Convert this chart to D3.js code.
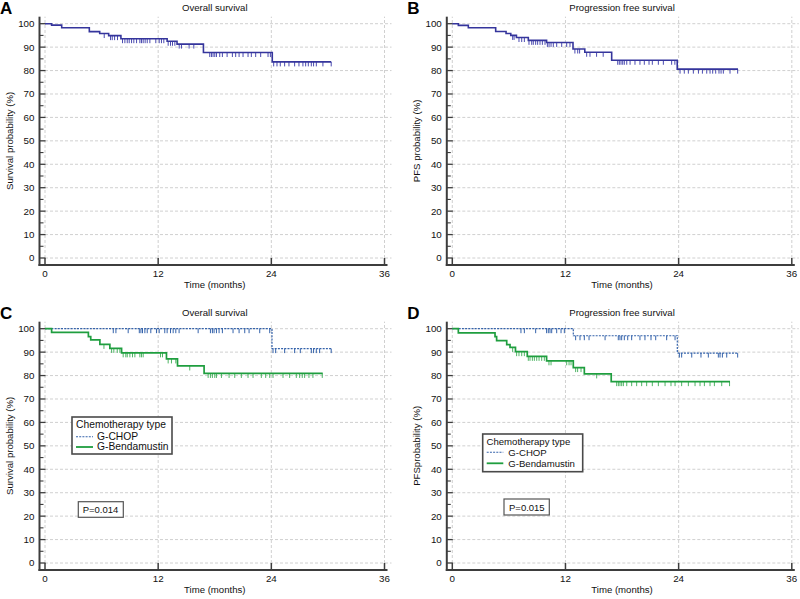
<!DOCTYPE html>
<html><head><meta charset="utf-8">
<script src="https://cdn.jsdelivr.net/npm/d3@7"></script>
<style>
html,body{margin:0;padding:0;background:#fff;}
svg{display:block;font-family:Arial,"Liberation Sans",sans-serif;}
</style></head>
<body>
<svg id="chart" width="800" height="599"></svg>
<script>
// ---------- data ----------
const xTickValues = [0, 12, 24, 36];
const yTickValues = [0, 10, 20, 30, 40, 50, 60, 70, 80, 90, 100];
const yMinorValues = [5, 15, 25, 35, 45, 55, 65, 75, 85, 95];

// A: overall survival, all patients
const osAllTimes = [0.7, 1.77, 4.7, 5.8, 6.75, 8.05, 12.95, 14.0, 16.8, 24.1];
const osAllSurv  = [99.4, 98.3, 96.6, 95.8, 94.9, 93.6, 92.5, 91.3, 87.7, 83.7];
const osAllCensor = [6.28, 6.95, 7.13, 7.38, 7.69, 8.22, 8.47, 8.72, 8.93, 9.18, 9.42, 9.71, 10.06, 10.23, 10.41, 10.62, 10.84, 11.12, 11.75, 12.11, 12.35, 12.6, 13.06, 13.31, 13.52, 13.77, 14.23, 14.47, 15.28, 15.78, 17.47, 17.65, 17.82, 18.0, 18.18, 18.53, 18.81, 19.31, 19.87, 20.22, 20.58, 21.0, 21.53, 21.88, 22.34, 22.87, 23.65, 23.9, 24.25, 24.6, 24.95, 25.41, 25.87, 26.47, 26.93, 27.35, 27.64, 27.92, 28.24, 28.48, 28.77, 29.47, 30.35];
const osAllEnd = 30.35;

// B: progression free survival, all patients
const pfsAllTimes = [0.64, 1.7, 4.6, 5.7, 6.2, 6.8, 8.06, 10.0, 12.8, 14.05, 16.9, 23.85];
const pfsAllSurv  = [99.3, 98.3, 96.7, 95.8, 95.0, 94.1, 92.9, 92.0, 89.2, 87.8, 84.4, 80.6];
const pfsAllCensor = [6.4, 6.55, 7.07, 7.36, 7.64, 8.13, 8.42, 8.59, 8.84, 9.05, 9.3, 9.55, 9.83, 10.08, 10.26, 10.47, 10.71, 11.07, 11.6, 12.13, 12.48, 13.0, 13.3, 13.5, 14.25, 14.6, 15.3, 16.0, 17.54, 17.71, 17.89, 18.07, 18.24, 18.5, 18.85, 19.37, 19.9, 20.36, 20.86, 21.21, 21.85, 22.38, 23.26, 23.6, 24.15, 24.6, 25.03, 25.56, 26.1, 26.52, 26.98, 27.33, 27.61, 27.93, 28.28, 28.5, 28.74, 29.45, 30.26];
const pfsAllEnd = 30.3;

// C: overall survival by chemotherapy
const osChopTimes = [24.07];
const osChopSurv  = [91.5];
const osChopCensor = [7.24, 7.52, 8.82, 10.0, 10.17, 10.34, 10.59, 10.84, 11.22, 11.82, 12.11, 12.7, 12.95, 13.31, 13.59, 13.87, 14.22, 16.24, 17.54, 17.75, 17.93, 18.18, 18.46, 18.81, 19.94, 20.58, 21.18, 21.64, 22.77, 23.83, 24.18, 24.46, 25.41, 26.47, 27.07, 28.24, 28.48, 28.77, 29.12, 30.35];
const osChopEnd = 30.35;
const osBendaTimes = [0.7, 4.6, 4.85, 5.82, 6.88, 8.12, 12.88, 14.05, 16.87];
const osBendaSurv  = [98.4, 96.6, 95.2, 93.3, 91.6, 89.7, 87.1, 84.1, 80.9];
const osBendaCensor = [6.25, 7.06, 7.3, 7.66, 7.94, 8.29, 8.57, 8.72, 9.0, 9.28, 9.53, 10.06, 10.23, 10.41, 12.25, 12.46, 13.06, 13.41, 13.87, 15.35, 17.3, 17.54, 17.75, 18.0, 18.18, 18.71, 19.52, 20.12, 20.82, 21.53, 22.06, 22.94, 23.4, 23.83, 24.18, 25.24, 25.94, 26.65, 27.0, 27.28, 27.53, 27.99, 28.41, 29.4];
const osBendaEnd = 29.45;

// D: progression free survival by chemotherapy
const pfsChopTimes = [12.83, 23.86];
const pfsChopSurv  = [97.0, 89.6];
const pfsChopCensor = [7.28, 7.64, 8.84, 10.0, 10.18, 10.36, 10.54, 11.07, 11.53, 11.88, 13.08, 13.54, 14.0, 14.5, 16.2, 17.6, 17.78, 17.96, 18.24, 18.6, 19.02, 19.9, 20.43, 21.07, 21.57, 22.73, 23.62, 24.08, 24.32, 25.39, 26.37, 27.15, 28.21, 28.39, 28.64, 29.1, 30.26];
const pfsChopEnd = 30.3;
const pfsBendaTimes = [0.64, 4.53, 4.7, 5.77, 6.12, 6.7, 7.95, 10.0, 12.83, 14.0, 16.85];
const pfsBendaSurv  = [98.2, 96.6, 94.9, 93.2, 92.0, 90.2, 88.2, 86.3, 83.4, 80.7, 77.4];
const pfsBendaCensor = [6.4, 6.82, 7.07, 7.36, 7.64, 8.06, 8.24, 8.49, 8.7, 8.95, 9.2, 9.48, 9.76, 10.25, 10.47, 12.13, 12.38, 12.59, 13.08, 13.29, 13.65, 15.31, 17.43, 17.61, 17.78, 17.96, 18.14, 18.5, 19.02, 19.55, 20.08, 20.61, 21.21, 21.85, 22.56, 23.19, 23.62, 24.32, 25.03, 25.74, 26.27, 26.73, 27.33, 27.79, 28.57, 29.4];
const pfsBendaEnd = 29.45;

const panelLetters = ["A", "B", "C", "D"];
const panelTitles = ["Overall survival", "Progression free survival", "Overall survival", "Progression free survival"];
const yTitles = ["Survival probability (%)", "PFS probability (%)", "Survival probability (%)", "PFSprobability (%)"];
const xTitle = "Time (months)";
const legendTitle = "Chemotherapy type";
const legendNames = ["G-CHOP", "G-Bendamustin"];
const pValues = ["P=0.014", "P=0.015"];

// ---------- styles ----------
const NAVY = "#35359c", BLUE = "#3563ab", GREEN = "#1f9e3f", GREEN_T = "#4fb565";
const AXIS = "#3d3d3d", GRID = "#c4c4c4", TXT = "#111";

const curvesByPanel = [
  [{t: osAllTimes, s: osAllSurv, c: osAllCensor, end: osAllEnd, color: NAVY, tick: "#4a4ab0", w: 1.6, dash: null}],
  [{t: pfsAllTimes, s: pfsAllSurv, c: pfsAllCensor, end: pfsAllEnd, color: NAVY, tick: "#4a4ab0", w: 1.6, dash: null}],
  [{t: osChopTimes, s: osChopSurv, c: osChopCensor, end: osChopEnd, color: BLUE, tick: BLUE, w: 1.2, dash: "2,1.2"},
   {t: osBendaTimes, s: osBendaSurv, c: osBendaCensor, end: osBendaEnd, color: GREEN, tick: GREEN_T, w: 1.7, dash: null}],
  [{t: pfsChopTimes, s: pfsChopSurv, c: pfsChopCensor, end: pfsChopEnd, color: BLUE, tick: BLUE, w: 1.2, dash: "2,1.2"},
   {t: pfsBendaTimes, s: pfsBendaSurv, c: pfsBendaCensor, end: pfsBendaEnd, color: GREEN, tick: GREEN_T, w: 1.7, dash: null}]
];

const offsets = [[0, 0], [407.3, 0], [0, 305], [407.3, 305]];

const svg = d3.select("#chart");

function survAt(curve, time) {
  let v = 100;
  curve.t.forEach((tt, i) => { if (tt <= time) v = curve.s[i]; });
  return v;
}

panelLetters.forEach((letter, pi) => {
  const [ox, oy] = offsets[pi];
  const g = svg.append("g").attr("transform", `translate(${ox},${oy})`);
  const x = d3.scaleLinear().domain([0, 36]).range([45, 384.5]);
  const y = d3.scaleLinear().domain([0, 100]).range([258, 23.7]);
  const axX = x(0) - 5.5, axY = y(0) + 7;

  // grid
  g.append("g").selectAll("line.h").data(yTickValues).join("line")
    .attr("x1", x(0)).attr("x2", x(36) + 7)
    .attr("y1", d => y(d)).attr("y2", d => y(d))
    .attr("stroke", GRID).attr("stroke-width", 0.8).attr("stroke-dasharray", "3,2");
  g.append("g").selectAll("line.v").data(xTickValues).join("line")
    .attr("x1", d => x(d)).attr("x2", d => x(d))
    .attr("y1", y(0)).attr("y2", y(103))
    .attr("stroke", GRID).attr("stroke-width", 0.8).attr("stroke-dasharray", "3,2");

  // axes lines
  g.append("line").attr("x1", axX).attr("x2", axX).attr("y1", y(103)).attr("y2", axY + 1)
    .attr("stroke", AXIS).attr("stroke-width", 2);
  g.append("line").attr("x1", axX - 1).attr("x2", x(36) + 3).attr("y1", axY).attr("y2", axY)
    .attr("stroke", AXIS).attr("stroke-width", 2);

  // y ticks
  g.append("g").selectAll("line").data(yTickValues).join("line")
    .attr("x1", axX).attr("x2", axX + 6).attr("y1", d => y(d)).attr("y2", d => y(d))
    .attr("stroke", AXIS).attr("stroke-width", 1.3);
  g.append("g").selectAll("line").data(yMinorValues).join("line")
    .attr("x1", axX).attr("x2", axX + 4).attr("y1", d => y(d)).attr("y2", d => y(d))
    .attr("stroke", AXIS).attr("stroke-width", 1.1);
  g.append("g").selectAll("text").data(yTickValues).join("text")
    .attr("x", axX - 5).attr("y", d => y(d)).attr("dy", "0.35em")
    .attr("text-anchor", "end").attr("font-size", 9.8).attr("fill", TXT)
    .text(d => d);

  // x ticks
  g.append("g").selectAll("line").data(xTickValues).join("line")
    .attr("x1", d => x(d)).attr("x2", d => x(d)).attr("y1", axY).attr("y2", axY - 7)
    .attr("stroke", AXIS).attr("stroke-width", 1.5);
  g.append("g").selectAll("text").data(xTickValues).join("text")
    .attr("x", d => x(d)).attr("y", axY + 12)
    .attr("text-anchor", "middle").attr("font-size", 9.8).attr("fill", TXT)
    .text(d => d);

  // titles
  g.append("text").attr("x", (x(0) + x(36)) / 2).attr("y", axY + 23)
    .attr("text-anchor", "middle").attr("font-size", 9.6).attr("fill", TXT).text(xTitle);
  g.append("text").attr("x", (x(0) + x(36)) / 2).attr("y", y(100) - 13.2)
    .attr("text-anchor", "middle").attr("font-size", 9.6).attr("fill", TXT).text(panelTitles[pi]);
  g.append("text").attr("transform", `translate(12.5,${(y(0) + y(100)) / 2}) rotate(-90)`)
    .attr("text-anchor", "middle").attr("font-size", 9.6).attr("fill", TXT).text(yTitles[pi]);
  g.append("text").attr("x", 0).attr("y", 13.8)
    .attr("font-size", 17).attr("font-weight", "bold").attr("fill", "#000").text(letter);

  // curves
  const line = d3.line().x(d => x(d[0])).y(d => y(d[1])).curve(d3.curveStepAfter);
  curvesByPanel[pi].forEach(cv => {
    const pts = [[0, 100]].concat(cv.t.map((tt, i) => [tt, cv.s[i]]));
    pts.push([cv.end, cv.s[cv.s.length - 1]]);
    g.append("g").selectAll("line").data(cv.c).join("line")
      .attr("x1", d => x(d)).attr("x2", d => x(d))
      .attr("y1", d => y(survAt(cv, d))).attr("y2", d => y(survAt(cv, d)) + 4.5)
      .attr("stroke", cv.tick).attr("stroke-width", 1);
    g.append("path").attr("d", line(pts)).attr("fill", "none")
      .attr("stroke", cv.color).attr("stroke-width", cv.w)
      .attr("stroke-dasharray", cv.dash);
  });
});

// legends and p-values (C and D)
const legendBoxes = [
  {x: 72, y: 417, w: 100, h: 37, fs: 10.3, tx: 76, ty: 428, lx1: 76, lx2: 93, tx2: 97, y1: 436.7, b1: 440, y2: 447, b2: 450.3},
  {x: 482.7, y: 434, w: 100, h: 37.7, fs: 9.6, tx: 486.5, ty: 444.5, lx1: 486.7, lx2: 503.3, tx2: 508.3, y1: 452.3, b1: 456, y2: 463.3, b2: 466.8}
];
const pBoxes = [
  {x: 78.3, y: 501.7, w: 45, h: 15.6, tx: 82.7, ty: 513},
  {x: 504, y: 499, w: 45.3, h: 16, tx: 509, ty: 510.8}
];
legendBoxes.forEach((L, i) => {
  const g = svg.append("g");
  g.append("rect").attr("x", L.x).attr("y", L.y).attr("width", L.w).attr("height", L.h)
    .attr("fill", "#fff").attr("stroke", "#4a4a4a").attr("stroke-width", 1.6);
  g.append("text").attr("x", L.tx).attr("y", L.ty).attr("font-size", L.fs).attr("fill", TXT).text(legendTitle);
  g.append("line").attr("x1", L.lx1).attr("x2", L.lx2).attr("y1", L.y1).attr("y2", L.y1)
    .attr("stroke", BLUE).attr("stroke-width", 1.1).attr("stroke-dasharray", "2,1.2");
  g.append("text").attr("x", L.tx2).attr("y", L.b1).attr("font-size", L.fs).attr("fill", TXT).text(legendNames[0]);
  g.append("line").attr("x1", L.lx1).attr("x2", L.lx2).attr("y1", L.y2).attr("y2", L.y2)
    .attr("stroke", GREEN).attr("stroke-width", 1.8);
  g.append("text").attr("x", L.tx2).attr("y", L.b2).attr("font-size", L.fs).attr("fill", TXT).text(legendNames[1]);

  const P = pBoxes[i];
  g.append("rect").attr("x", P.x).attr("y", P.y).attr("width", P.w).attr("height", P.h)
    .attr("fill", "#fff").attr("stroke", "#555").attr("stroke-width", 1.2);
  g.append("text").attr("x", P.tx).attr("y", P.ty).attr("font-size", 9.5).attr("fill", TXT).text(pValues[i]);
});
</script>
</body></html>
